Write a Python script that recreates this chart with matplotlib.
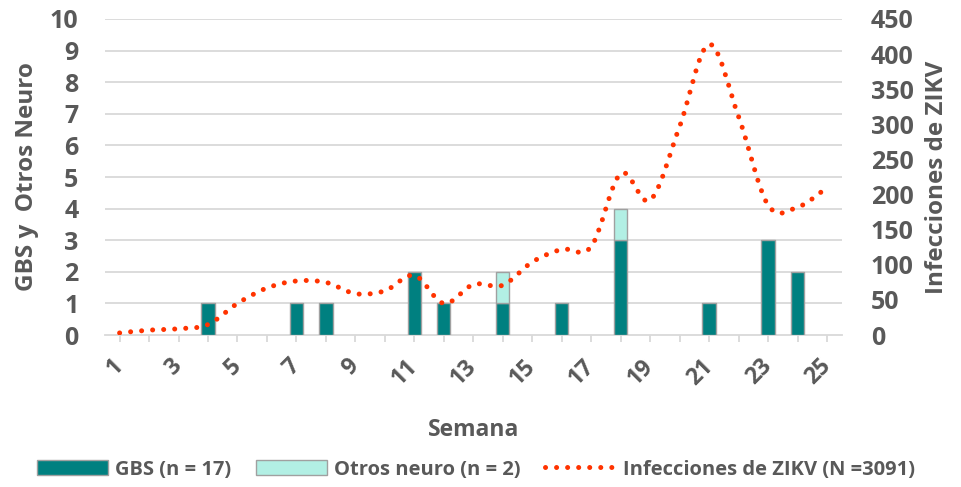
import numpy as np
import matplotlib
matplotlib.use('Agg')
from matplotlib import pyplot as plt
from matplotlib.path import Path
from matplotlib.patches import PathPatch, Patch
from matplotlib.lines import Line2D

# data
weeks = list(range(1, 26))
gbs = [0, 0, 0, 1, 0, 0, 1, 1, 0, 0, 2, 1, 0, 1, 0, 1, 0, 3, 0, 0, 1, 0, 3, 2, 0]
otros = [0, 0, 0, 0, 0, 0, 0, 0, 0, 0, 0, 0, 0, 1, 0, 0, 0, 1, 0, 0, 0, 0, 0, 0, 0]
zikv = [3, 7, 9, 15, 45, 67, 77, 75, 59, 63, 85, 45, 72, 71, 104, 122, 126,
        230, 192, 297, 414, 311, 185, 182, 210]

teal = '#008080'
light = '#B2EFE4'
red = '#FF3300'
grey_txt = '#595959'
grid_c = '#D9D9D9'

plt.rcParams['font.family'] = ['Open Sans', 'DejaVu Sans']
plt.rcParams['font.weight'] = 'bold'

fig = plt.figure(figsize=(9.62, 4.87), dpi=100)
ax = fig.add_axes([0.109, 0.312, 0.766, 0.649])
ax2 = ax.twinx()

# bars (skip empty weeks so no stray edges at zero)
wk = np.array(weeks)
g = np.array(gbs)
o = np.array(otros)
m1 = g > 0
m2 = o > 0
ax.bar(wk[m1], g[m1], width=0.45, color=teal, edgecolor='#A0A0A0', linewidth=1, zorder=3)
ax.bar(wk[m2], o[m2], width=0.45, bottom=g[m2], color=light, edgecolor='#A0A0A0',
       linewidth=1, zorder=3)

ax.set_ylim(0, 10)
ax.set_xlim(0.5, 25.5)
ax.set_yticks(range(0, 11))
for v in range(1, 11):
    ax.axhline(v, color=grid_c, lw=1.3, zorder=0)
for s in ['top', 'left', 'right']:
    ax.spines[s].set_visible(False)
    ax2.spines[s].set_visible(False)
ax.spines['bottom'].set_color(grid_c)
ax.spines['bottom'].set_linewidth(1.3)
ax2.spines['bottom'].set_visible(False)

ax.set_xticks(weeks)
ax.set_xticklabels([str(w) if w % 2 == 1 else '' for w in weeks], rotation=45,
                   ha='right', va='center', rotation_mode='anchor')
ax.tick_params(axis='x', length=5, color=grid_c, width=1.3, labelsize=16.5,
               labelcolor=grey_txt, pad=15)
ax.tick_params(axis='y', length=0, labelsize=18, labelcolor=grey_txt, pad=19)

# smoothed dotted line (Catmull-Rom as cubic bezier, like Excel smoothing)
x = np.array(weeks, dtype=float)
y = np.array(zikv, dtype=float)
verts = [(x[0], y[0])]
codes = [Path.MOVETO]
n = len(x)
for i in range(n - 1):
    p0 = np.array([x[max(i - 1, 0)], y[max(i - 1, 0)]])
    p1 = np.array([x[i], y[i]])
    p2 = np.array([x[i + 1], y[i + 1]])
    p3 = np.array([x[min(i + 2, n - 1)], y[min(i + 2, n - 1)]])
    c1 = p1 + (p2 - p0) / 6
    c2 = p2 - (p3 - p1) / 6
    verts += [tuple(c1), tuple(c2), tuple(p2)]
    codes += [Path.CURVE4] * 3
line = PathPatch(Path(verts, codes), facecolor='none', edgecolor=red, lw=3.6,
                 linestyle=(0, (0.01, 2.2)), capstyle='round', zorder=4)
ax2.add_patch(line)
ax2.set_ylim(0, 450)
ax2.set_yticks(range(0, 451, 50))
ax2.tick_params(axis='y', length=0, labelsize=18, labelcolor=grey_txt, pad=21)

for lab in ax.get_yticklabels() + ax2.get_yticklabels() + ax.get_xticklabels():
    lab.set_fontweight('bold')

ax.set_ylabel('GBS y  Otros Neuro', fontsize=17.5, fontweight='bold', color=grey_txt, labelpad=8)
ax2.set_ylabel('Infecciones de ZIKV', fontsize=17.5, fontweight='bold', color=grey_txt, labelpad=8)
ax.set_xlabel('Semana', fontsize=16.5, fontweight='bold', color=grey_txt, labelpad=20)

handles = [Patch(facecolor=teal, edgecolor='#A0A0A0'),
           Patch(facecolor=light, edgecolor='#A0A0A0'),
           Line2D([0], [0], color=red, lw=3.6, linestyle=(0, (0.01, 2.2)),
                  dash_capstyle='round')]
labels = ['GBS (n = 17)', 'Otros neuro (n = 2)', 'Infecciones de ZIKV (N =3091)']
leg = fig.legend(handles, labels, loc='lower center', bbox_to_anchor=(0.495, -0.022), ncol=3,
                 frameon=False, fontsize=14.5, handlelength=3.5, handleheight=0.75,
                 handletextpad=0.35, columnspacing=1.25)
for t in leg.get_texts():
    t.set_color(grey_txt)
    t.set_fontweight('bold')

fig.savefig('out.png', dpi=100)
